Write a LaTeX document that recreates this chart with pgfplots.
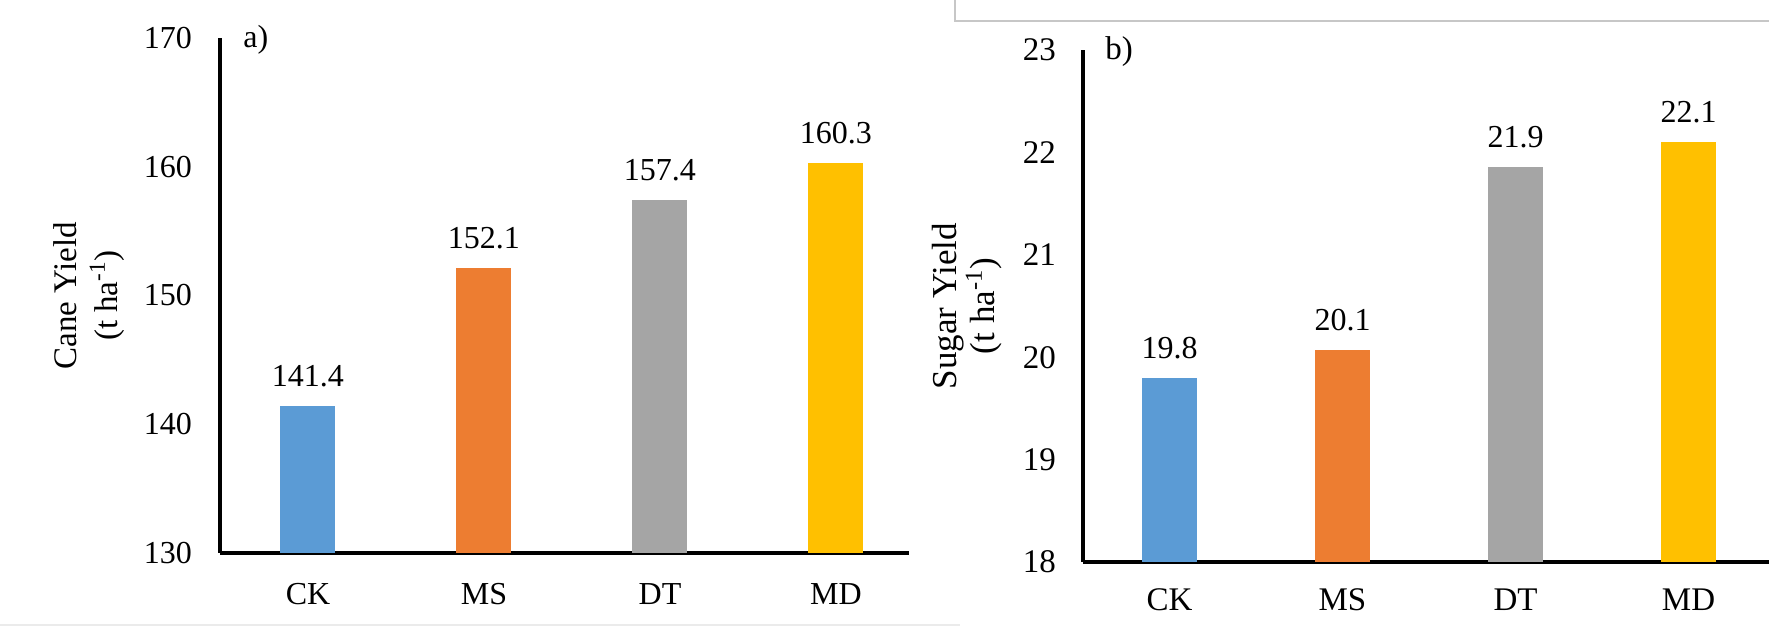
\documentclass[border=0pt]{standalone}
\usepackage{fontspec}
\setmainfont{Liberation Serif}
\usepackage{pgfplots}
\pgfplotsset{compat=1.18}
\definecolor{ckc}{HTML}{5B9BD5}
\definecolor{msc}{HTML}{ED7D31}
\definecolor{dtc}{HTML}{A5A5A5}
\definecolor{mdc}{HTML}{FFC000}
\pgfplotsset{
  mybar/.style={
    scale only axis,
    axis lines*=left,
    axis line style={line width=2pt, black},
    major tick length=0pt,
    xtick={0,1,2,3},
    xticklabels={CK,MS,DT,MD},
    /pgf/number format/assume math mode=true,
    ybar, bar width=27.5pt, bar shift=0pt,
    point meta=explicit symbolic,
    nodes near coords={\textrm{\pgfplotspointmeta}},
    every node near coord/.append style={text=black, font=\rmfamily\fontsize{16}{19}\selectfont, yshift=6pt},
    every axis y label/.style={rotate=90, anchor=center, align=center},
  }
}
\begin{document}
\begin{tikzpicture}
\fill[white] (0pt,0pt) rectangle (884.5pt,315pt);
\draw[black!22, line width=0.8pt] (477.5pt,316pt) -- (477.5pt,304.5pt) -- (886pt,304.5pt);
\draw[black!8, line width=0.8pt] (0pt,2.5pt) -- (480pt,2.5pt);

% panel a
\begin{axis}[mybar, name=ax1,
  at={(110pt,38.5pt)}, anchor=south west,
  width=344.5pt, height=257.5pt,
  xmin=-0.5, xmax=3.415, ymin=130, ymax=170,
  ytick={130,140,150,160,170},
  yticklabels={\textrm{130},\textrm{140},\textrm{150},\textrm{160},\textrm{170}},
  tick label style={font=\rmfamily\fontsize{16}{19}\selectfont},
  yticklabel style={xshift=-10.5pt},
  xticklabel style={yshift=-11.5pt},
  ylabel={Cane Yield\\(t ha\textsuperscript{-1})},
  ylabel style={at={(axis description cs:-0.19,0.5)}, font=\fontsize{16.5}{20.5}\selectfont},
]
\addplot[fill=ckc, draw=none] coordinates {(0,141.4) [141.4]};
\addplot[fill=msc, draw=none] coordinates {(1,152.1) [152.1]};
\addplot[fill=dtc, draw=none] coordinates {(2,157.4) [157.4]};
\addplot[fill=mdc, draw=none] coordinates {(3,160.3) [160.3]};
\end{axis}
\node[anchor=west, font=\fontsize{16}{19}\selectfont, inner sep=0pt] at ([xshift=11.5pt,yshift=-1pt]ax1.north west) {a)};

% panel b
\begin{axis}[mybar, name=ax2,
  at={(541.5pt,34pt)}, anchor=south west,
  width=346pt, height=256pt,
  xmin=-0.5, xmax=3.5, ymin=18, ymax=23,
  ytick={18,19,20,21,22,23},
  yticklabels={\textrm{18},\textrm{19},\textrm{20},\textrm{21},\textrm{22},\textrm{23}},
  tick label style={font=\rmfamily\fontsize{16.5}{19.5}\selectfont},
  yticklabel style={xshift=-10pt},
  xticklabel style={yshift=-9.7pt},
  ylabel={Sugar Yield\\(t ha\textsuperscript{-1})},
  ylabel style={at={(axis description cs:-0.168,0.5)}, font=\fontsize{17.5}{16}\selectfont},
]
\addplot[fill=ckc, draw=none] coordinates {(0,19.8) [19.8]};
\addplot[fill=msc, draw=none] coordinates {(1,20.07) [20.1]};
\addplot[fill=dtc, draw=none] coordinates {(2,21.86) [21.9]};
\addplot[fill=mdc, draw=none] coordinates {(3,22.1) [22.1]};
\end{axis}
\node[anchor=west, font=\fontsize{16.5}{19}\selectfont, inner sep=0pt] at ([xshift=11pt,yshift=-1pt]ax2.north west) {b)};

\pgfresetboundingbox
\path[use as bounding box] (0pt,0pt) rectangle (884.5pt,315pt);
\end{tikzpicture}
\end{document}
